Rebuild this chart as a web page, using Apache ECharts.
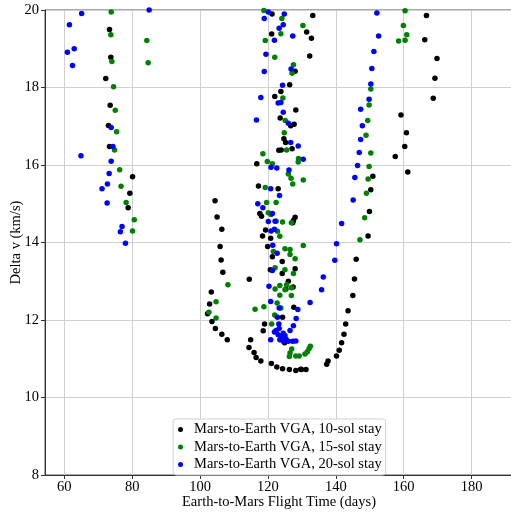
<!DOCTYPE html>
<html>
<head>
<meta charset="utf-8">
<script src="https://cdn.jsdelivr.net/npm/echarts@6/dist/echarts.min.js"></script>
<style>html,body{margin:0;padding:0;background:#fff}#c{width:511px;height:512px}</style>
</head>
<body>
<div id="c"></div>
<script>
const seriesNames = ["Mars-to-Earth VGA, 10-sol stay","Mars-to-Earth VGA, 15-sol stay","Mars-to-Earth VGA, 20-sol stay"];
const xTicks = [60,80,100,120,140,160,180];
const yTicks = [8,10,12,14,16,18,20];

const stay10 = [
[73.3,19.50],[73.7,18.78],[72.2,18.23],[73.5,17.54],[73.0,17.02],[73.3,16.48],[80.1,15.70],[79.3,15.27],[78.8,14.90],
[104.4,15.08],[105.0,14.66],[106.4,14.34],[105.9,13.90],[106.2,13.55],[106.7,13.23],[103.3,12.72],[102.8,12.41],[102.2,12.16],[103.5,11.96],[104.5,11.78],[106.4,11.63],[108.0,11.49],[114.5,13.05],[114.9,11.49],[114.4,11.29],[115.9,11.16],[116.5,11.03],[117.9,10.94],[121.0,10.88],[122.6,10.79],[124.3,10.74],[126.3,10.72],[128.2,10.70],[129.6,10.73],[129.9,10.72],[131.2,10.72],[137.3,10.86],[137.7,10.94],[140.2,11.07],[141.0,11.22],[141.7,11.41],[142.4,11.63],[142.9,11.90],[143.6,12.24],[145.0,12.63],[145.5,13.06],[146.0,13.57],[149.5,14.17],[149.9,14.80],[150.3,15.36],[150.9,15.71],
[157.5,16.22],[159.2,17.29],[160.8,16.83],[160.3,16.48],[161.2,15.82],[166.7,19.86],[166.2,19.23],[169.8,18.75],[169.2,18.24],[168.7,17.72],
[121.2,19.90],[121.1,19.38],[133.2,19.86],[131.4,19.43],[132.8,19.27],[132.3,18.81],[128.0,18.42],[126.4,18.07],[123.8,17.90],[122.0,17.77],[128.2,17.42],[123.6,17.21],[126.7,17.01],[127.7,17.05],[124.7,16.68],[125.2,16.58],[127.1,16.42],[123.2,16.38],[123.9,16.39],[116.7,16.03],[117.2,15.46],[123.0,15.39],[117.6,14.75],[118.1,14.68],[128.0,14.65],[127.5,14.57],[127.3,14.51],[119.3,14.32],[118.4,14.17],[120.8,14.11],[119.9,13.90],[121.3,13.63],[124.2,13.51],[128.0,13.32],[124.2,13.20],[126.0,13.00],[125.3,12.80],[127.4,12.85],[127.6,12.33],[124.3,12.07],[119.0,11.90],[118.6,11.72],[124.9,11.41],[120.7,13.30]
];

const stay15 = [
[73.8,19.95],[73.7,19.36],[84.3,19.21],[74.0,18.67],[84.7,18.64],[74.5,18.02],[75.0,17.41],[75.4,16.86],[74.8,16.39],[76.3,15.88],[76.7,15.45],[78.2,15.03],[80.6,14.59],[80.1,14.30],
[108.2,12.91],[104.7,12.47],[102.6,12.20],[104.7,12.05],[116.2,12.28],[118.8,12.34],
[118.8,19.99],[124.1,19.78],[130.3,19.60],[123.8,19.39],[119.2,19.21],[122.0,18.78],[127.5,18.59],[127.1,18.37],[124.4,17.73],[125.1,17.15],[124.8,16.83],[125.5,16.39],[118.5,16.29],[119.8,16.09],[121.3,16.03],[129.0,16.17],[128.9,16.08],[126.0,15.77],[126.8,15.66],[130.4,15.61],[127.3,15.51],[119.2,15.42],[119.6,15.03],[122.4,15.03],[120.1,14.77],[120.9,14.72],[122.4,14.55],[124.3,14.53],[126.9,14.51],[122.8,14.29],[123.5,14.16],[130.4,13.92],[125.0,13.84],[126.5,13.82],[121.6,13.77],[126.5,13.69],[128.0,13.58],[122.1,13.35],[125.0,13.30],[127.5,13.20],[122.1,12.80],[123.5,12.89],[125.5,12.91],[126.9,12.83],[125.0,12.78],[126.9,12.63],[123.5,12.64],[122.7,12.44],[123.8,12.31],[122.0,12.13],[121.1,11.90],
[126.3,11.06],[126.5,11.15],[127.0,11.25],[128.2,11.07],[129.2,11.07],[130.9,11.12],[131.6,11.18],[132.1,11.26],[132.5,11.32],
[160.4,19.98],[159.9,19.60],[160.9,19.36],[158.5,19.20],[160.4,19.22],[150.3,17.96],[149.8,17.55],[149.4,17.15],[148.9,16.77],[150.3,16.31],[149.8,15.96],[149.5,15.64],[149.0,15.27],[148.5,14.64],[147.1,14.07]
];

const stay20 = [
[65.1,19.91],[61.5,19.62],[62.9,19.00],[60.9,18.91],[62.4,18.57],[64.9,16.24],[73.8,16.97],[74.3,16.48],[73.8,16.10],[73.2,15.78],[72.7,15.51],[71.1,15.39],[72.6,15.02],[77.0,14.41],[76.5,14.28],[78.0,13.98],[85.0,20.0],
[120.1,19.95],[124.8,19.90],[118.9,19.78],[124.5,19.62],[123.3,19.53],[121.9,19.22],[127.3,19.33],[119.4,18.86],[118.9,18.41],[126.8,18.48],[124.3,18.06],[117.9,17.74],[123.0,17.60],[123.8,17.61],[124.5,17.36],[116.6,17.16],[126.0,17.08],[126.7,16.58],[128.9,16.49],[130.4,16.15],
[120.9,15.94],[122.6,15.92],[126.2,15.87],[120.8,15.39],[123.4,15.21],[117.0,15.00],[118.5,14.90],[121.3,14.75],[122.1,14.55],[120.1,14.54],[120.9,14.30],[121.9,14.34],[121.4,13.93],[122.7,13.72],[121.3,13.28],[120.3,12.87],[120.8,12.48],[123.3,12.31],[128.8,12.27],[128.3,12.04],[122.8,12.07],[127.5,11.85],[123.2,11.90],
[121.9,11.69],[122.4,11.73],[123.0,11.62],[124.0,11.55],[124.5,11.66],[125.3,11.51],[126.0,11.45],[126.5,11.73],[127.3,11.45],[128.2,11.46],[123.5,11.49],[124.5,11.45],[120.8,11.49],[123.3,11.78],[125.0,11.60],
[132.4,12.45],[135.8,12.78],[136.3,13.11],[139.7,13.54],[140.2,13.97],[141.7,14.49],[145.1,15.10],[145.6,15.68],[146.4,15.99],[146.9,16.32],[147.3,16.66],[147.8,17.01],[147.3,17.44],[149.8,17.70],[150.3,18.09],[150.6,18.49],[151.2,18.93],[152.6,19.33],[152.1,19.92]
];

const colors = ['#000000','#008000','#0000ff'];
const font = 'Liberation Serif, Times New Roman, serif';
const chart = echarts.init(document.getElementById('c'), null, {renderer:'canvas'});
chart.setOption({
  animation:false,
  backgroundColor:'#fff',
  grid:{left:45, right:-2, top:10, bottom:37, outerBoundsMode:'none', containLabel:false, show:true, borderColor:'#555', borderWidth:1},
  xAxis:{
    type:'value', min:54.3, max:192.2,
    name:'Earth-to-Mars Flight Time (days)', nameLocation:'middle', nameGap:20, nameMoveOverlap:false,
    nameTextStyle:{fontFamily:font, fontSize:14.5, color:'#000'},
    axisLine:{show:true, onZero:false, lineStyle:{color:'#333'}},
    axisTick:{show:true, length:4, customValues:xTicks, lineStyle:{color:'#333'}},
    axisLabel:{customValues:xTicks, fontFamily:font, fontSize:14.5, color:'#000', margin:5},
    splitLine:{show:true, lineStyle:{color:'#cfcfcf', width:1}}
  },
  yAxis:{
    type:'value', min:8, max:20, interval:2,
    name:'Delta v (km/s)', nameLocation:'middle', nameGap:21, nameMoveOverlap:false,
    nameTextStyle:{fontFamily:font, fontSize:14.5, color:'#000'},
    axisLine:{show:true, onZero:false, lineStyle:{color:'#333'}},
    axisTick:{show:true, length:4, lineStyle:{color:'#333'}},
    axisLabel:{fontFamily:font, fontSize:14.5, color:'#000', margin:6},
    splitLine:{show:true, lineStyle:{color:'#cfcfcf', width:1}}
  },
  legend:{
    orient:'vertical', left:173, top:419,
    padding:[3,4,3,5], itemGap:2.5, itemWidth:17, itemHeight:5,
    backgroundColor:'rgba(255,255,255,0.85)', borderColor:'#d0d0d0', borderWidth:1, borderRadius:3,
    textStyle:{fontFamily:font, fontSize:14.5, color:'#000'},
    data:seriesNames.map(n=>({name:n, icon:'circle'}))
  },
  series:[stay10, stay15, stay20].map((d,i)=>({
    type:'scatter', name:seriesNames[i], data:d, symbolSize:5.5,
    itemStyle:{color:colors[i], opacity:1}
  }))
});
</script>
</body>
</html>
